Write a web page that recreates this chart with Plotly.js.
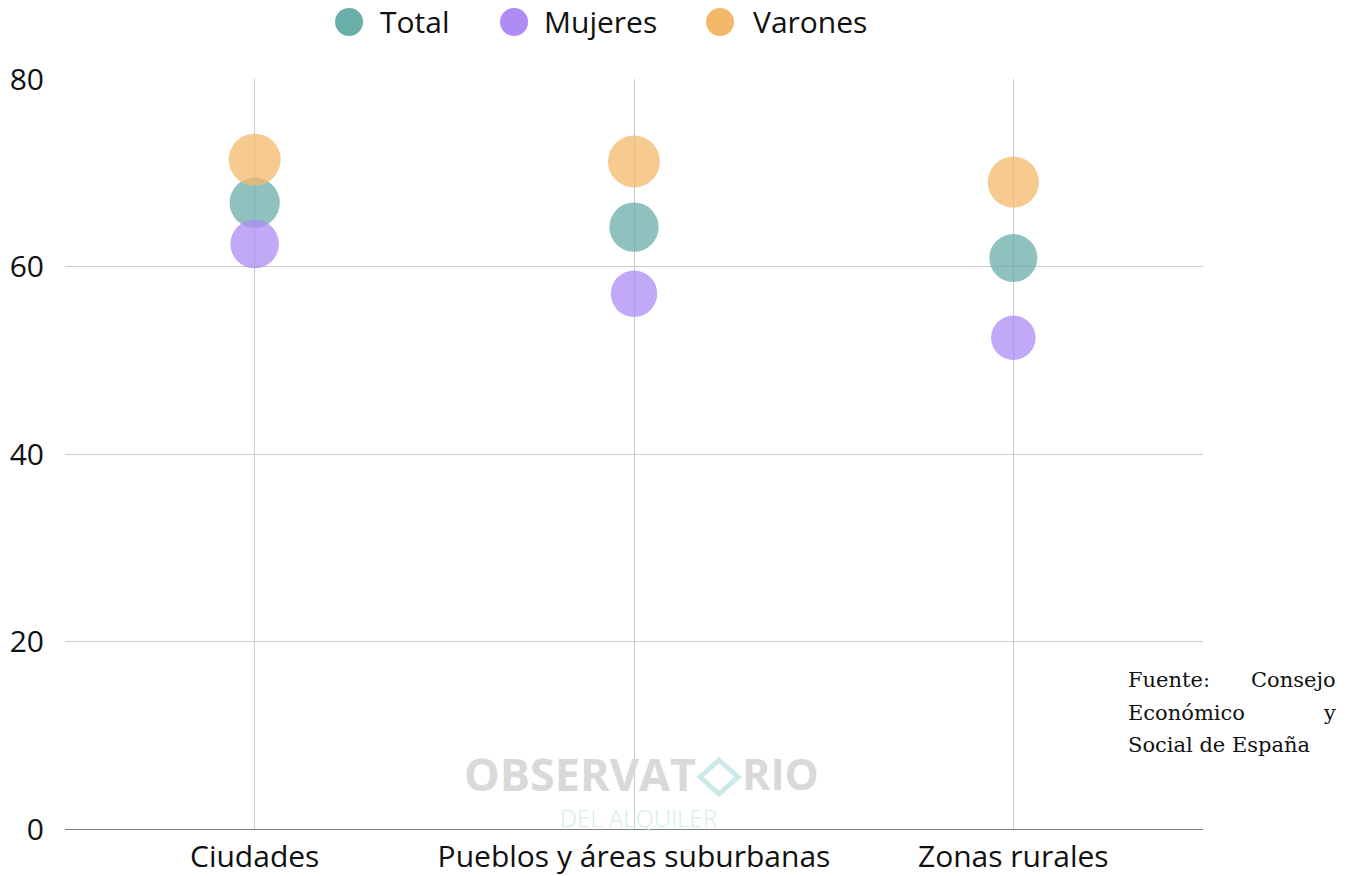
<!DOCTYPE html>
<html>
<head>
<meta charset="utf-8">
<script src="https://cdn.plot.ly/plotly-3.0.1.min.js"></script>
<style>html,body{margin:0;padding:0;background:#fff;}#chart{width:1355px;height:876px;}</style>
</head>
<body>
<div id="chart"></div>
<script>
// ---- data ----
const categories = ["Ciudades", "Pueblos y áreas suburbanas", "Zonas rurales"];
const seriesNames = ["Total", "Mujeres", "Varones"];
const totalValues = [66.8, 64.2, 60.9];
const mujeresValues = [62.4, 57.1, 52.4];
const varonesValues = [71.4, 71.2, 69.0];
const yTickValues = [0, 20, 40, 60, 80];
const sourceText = ["Fuente:", "Consejo", "Económico", "y", "Social de España"];

// ---- styling ----
const colors = ["#6aaeaa", "#ae8cf4", "#f4b86a"];
const seriesValues = [totalValues, mujeresValues, varonesValues];
const sizeRef = 0.0528;

const traces = seriesNames.map((name, i) => ({
  type: "scatter",
  mode: "markers",
  name: name,
  x: categories,
  y: seriesValues[i],
  showlegend: false,
  hoverinfo: "x+y+name",
  marker: {
    color: colors[i],
    opacity: 0.75,
    size: seriesValues[i],
    sizemode: "area",
    sizeref: sizeRef,
    line: {width: 0}
  }
}));

// custom legend (big circles)
const legendX = [0.2496, 0.3946, 0.5756];
const legendTextX = [0.2750, 0.4191, 0.6028];
const legendY = (829 - 22) / 750;
const shapes = [];
const annotations = [];
seriesNames.forEach((name, i) => {
  shapes.push({
    type: "circle", xref: "paper", yref: "paper",
    xsizemode: "pixel", ysizemode: "pixel",
    xanchor: legendX[i], yanchor: legendY,
    x0: -14, x1: 14, y0: -14, y1: 14,
    fillcolor: colors[i], line: {width: 0}
  });
  annotations.push({
    xref: "paper", yref: "paper", x: legendTextX[i], y: legendY,
    xanchor: "left", yanchor: "middle", showarrow: false,
    text: name, font: {family: "Open Sans", size: 30, color: "#111"}
  });
});

// watermark
annotations.push({
  xref: "paper", yref: "paper", x: (697 - 65) / 1138, y: (829 - 773) / 750,
  xanchor: "right", yanchor: "middle", showarrow: false, borderpad: 0,
  text: "<b>OBSERVAT</b>", font: {family: "Open Sans", size: 45, color: "#d9d9d9"}
});
annotations.push({
  xref: "paper", yref: "paper", x: (741 - 65) / 1138, y: (829 - 773) / 750,
  xanchor: "left", yanchor: "middle", showarrow: false, borderpad: 0,
  text: "<b>RIO</b>", font: {family: "Open Sans", size: 43, color: "#d9d9d9"}
});
shapes.push({
  type: "path", xref: "paper", yref: "paper",
  xsizemode: "pixel", ysizemode: "pixel",
  xanchor: (719 - 65) / 1138, yanchor: (829 - 777) / 750,
  path: "M -19 0 L 0 17 L 19 0 L 0 -17 Z",
  fillcolor: "rgba(0,0,0,0)", line: {color: "#cde8e8", width: 5}
});
annotations.push({
  xref: "paper", yref: "paper", x: (638 - 65) / 1138, y: (829 - 817) / 750,
  xanchor: "center", yanchor: "middle", showarrow: false, borderpad: 0,
  text: "DEL ALQUILER", font: {family: "Open Sans", size: 24, color: "#d3ecec", weight: 300}
});

// source text (justified)
const srcFont = {family: "DejaVu Serif", size: 21, color: "#111"};
const srcLeft = (1126 - 65) / 1138, srcRight = (1338 - 65) / 1138;
const lineY = [680, 713, 745].map(p => (829 - p) / 750);
annotations.push({xref: "paper", yref: "paper", x: srcLeft, y: lineY[0], xanchor: "left", yanchor: "middle", showarrow: false, text: sourceText[0], font: srcFont});
annotations.push({xref: "paper", yref: "paper", x: srcRight, y: lineY[0], xanchor: "right", yanchor: "middle", showarrow: false, text: sourceText[1], font: srcFont});
annotations.push({xref: "paper", yref: "paper", x: srcLeft, y: lineY[1], xanchor: "left", yanchor: "middle", showarrow: false, text: sourceText[2], font: srcFont});
annotations.push({xref: "paper", yref: "paper", x: srcRight, y: lineY[1], xanchor: "right", yanchor: "middle", showarrow: false, text: sourceText[3], font: srcFont});
annotations.push({xref: "paper", yref: "paper", x: srcLeft, y: lineY[2], xanchor: "left", yanchor: "middle", showarrow: false, text: sourceText[4], font: srcFont});

const layout = {
  width: 1355, height: 876,
  margin: {l: 65, r: 152, t: 79, b: 47, pad: 0},
  paper_bgcolor: "#fff", plot_bgcolor: "#fff",
  showlegend: false,
  font: {family: "Open Sans", size: 30, color: "#111"},
  xaxis: {
    type: "category", range: [-0.5, 2.5],
    showgrid: true, gridcolor: "#cccccc", gridwidth: 1,
    showline: true, linecolor: "#808080", linewidth: 1,
    zeroline: false, ticks: "", ticklabelstandoff: 1,
    tickfont: {family: "Open Sans", size: 30, color: "#111"},
    fixedrange: true
  },
  yaxis: {
    range: [0, 80], tickvals: yTickValues, ticktext: yTickValues.map(String),
    showgrid: true, gridcolor: "#cccccc", gridwidth: 1,
    zeroline: false, showline: false, ticks: "",
    ticklabelstandoff: 20,
    tickfont: {family: "Open Sans", size: 30, color: "#111"},
    fixedrange: true
  },
  shapes: shapes,
  annotations: annotations
};

Plotly.newPlot("chart", traces, layout, {displayModeBar: false, staticPlot: true});
</script>
</body>
</html>
